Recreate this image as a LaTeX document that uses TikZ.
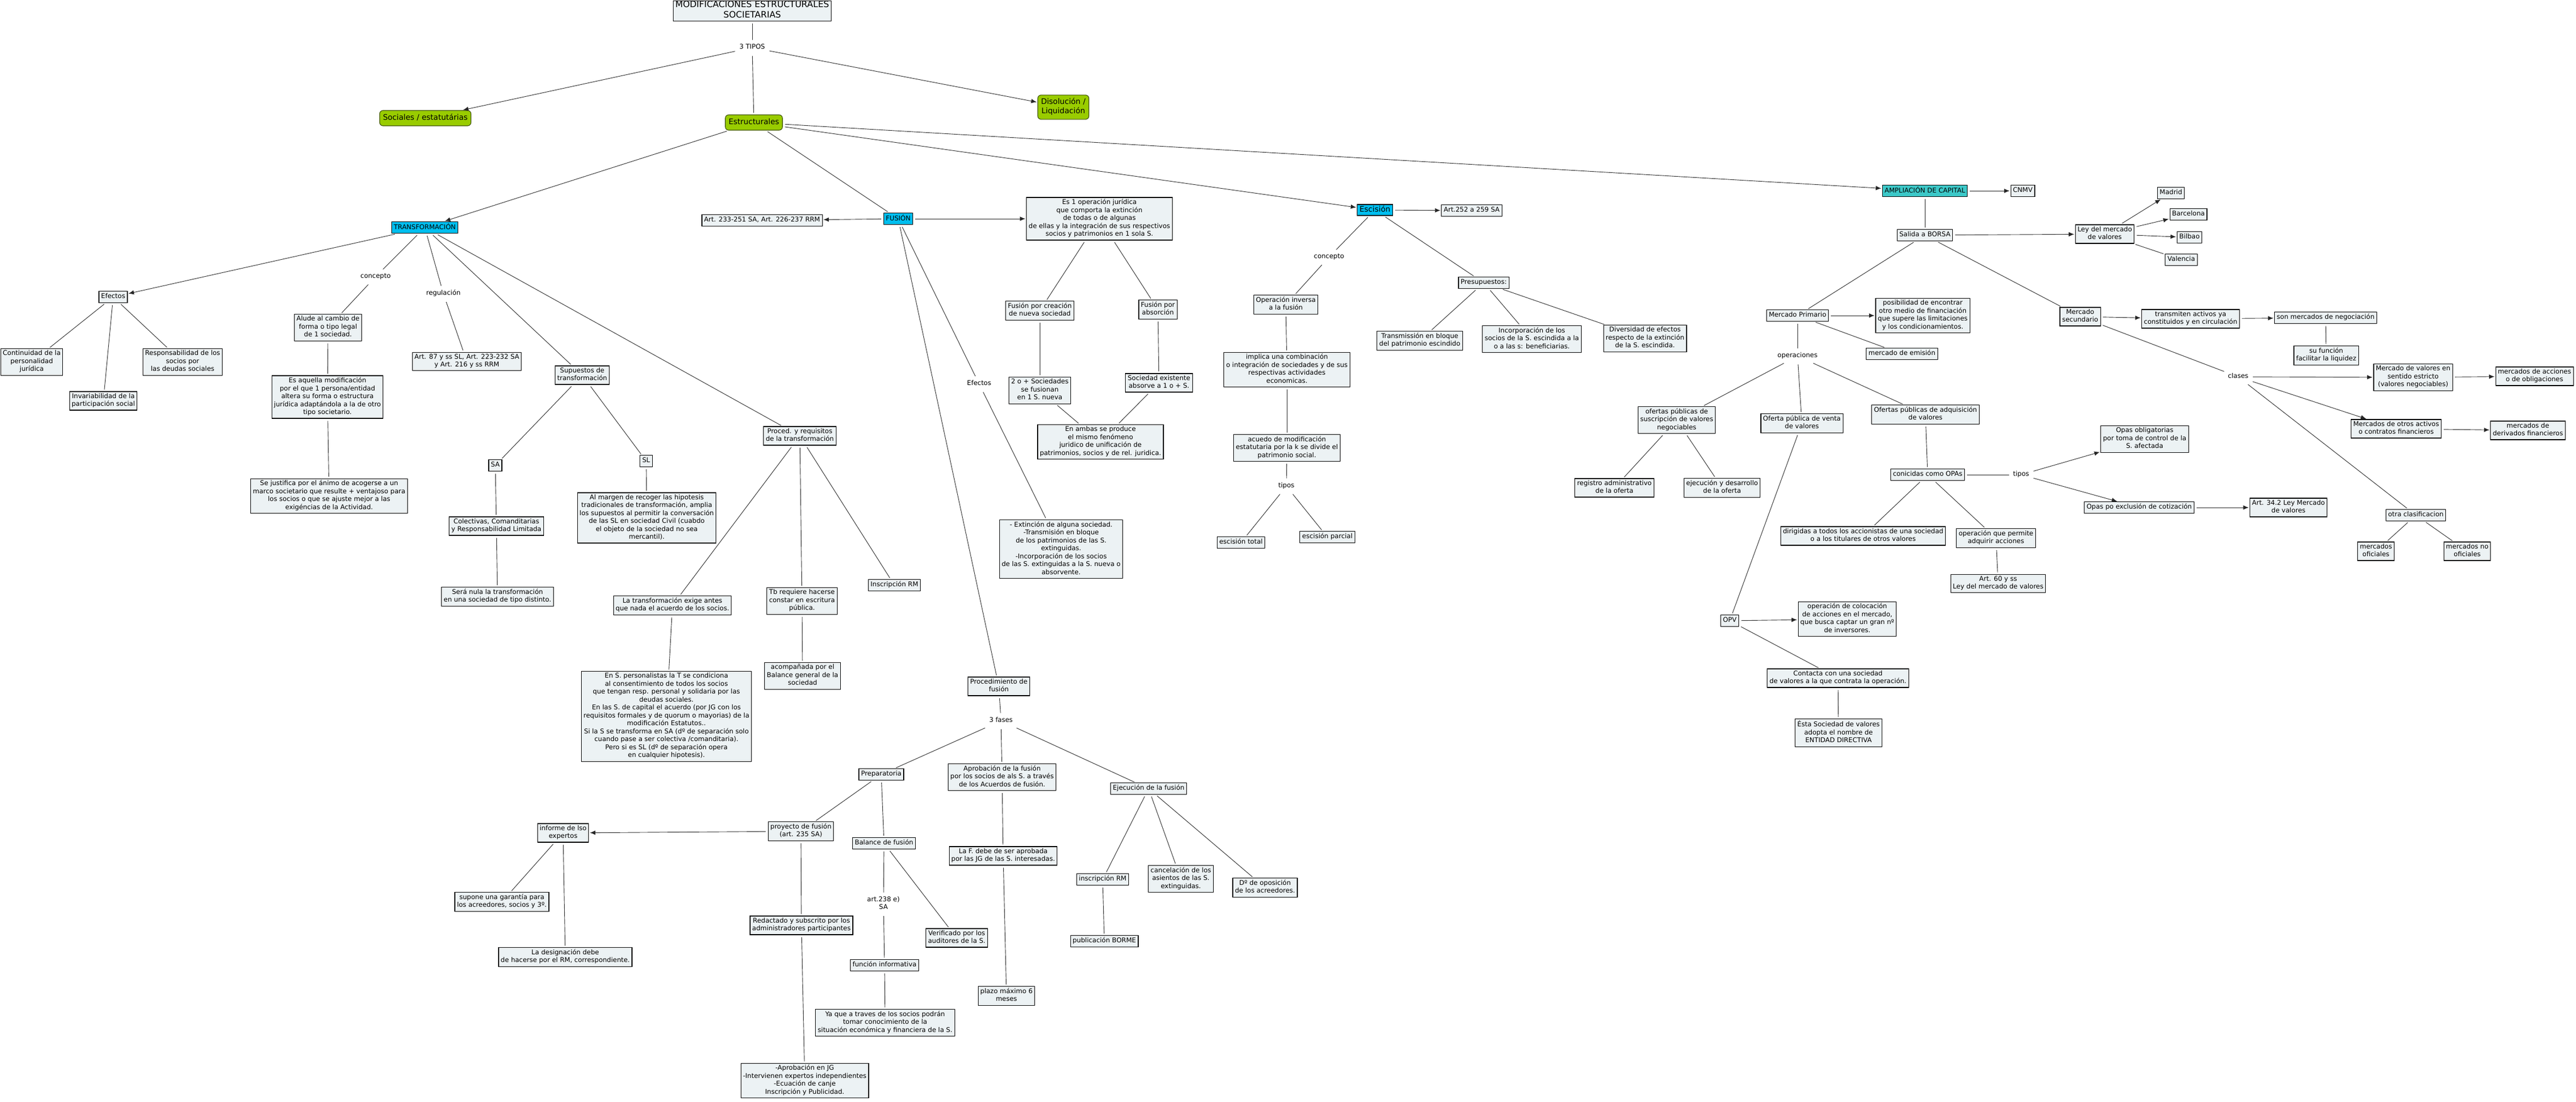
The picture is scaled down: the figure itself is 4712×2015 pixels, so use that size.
\documentclass[tikz,border=0pt]{standalone}
\usepackage{fontspec}
\setmainfont{DejaVu Sans}
\usetikzlibrary{arrows.meta}
\definecolor{boxfill}{RGB}{236,242,244}
\definecolor{cyanfill}{RGB}{0,190,240}
\definecolor{tealfill}{RGB}{60,200,200}
\definecolor{greenfill}{RGB}{153,204,0}
\definecolor{greenline}{RGB}{60,80,0}

\begin{document}
\begin{tikzpicture}[x=1pt,y=-1pt,
		>={Latex[length=10pt,width=8pt]},
		every node/.style={font=\fontsize{12}{14.5}\selectfont,align=center},
		box/.style={draw,line width=1.1pt,fill=boxfill,inner xsep=4pt,inner ysep=3pt,execute at begin node=\strut,execute at end node=\strut},
		topic/.style={box,fill=cyanfill},
		rama/.style={box,fill=greenfill,draw=greenline,rounded corners=6pt,inner xsep=6pt,inner ysep=5.5pt,font=\fontsize{14}{17}\selectfont},
		link/.style={inner sep=4pt,execute at begin node=\strut,execute at end node=\strut},
		conn/.style={draw=black!85,line width=0.9pt,shorten >=3pt,shorten <=4pt},
		arr/.style={conn,->,shorten >=1.5pt}]
		\fill[white] (0,0) rectangle (4712,2015);
		\useasboundingbox (0,0) rectangle (4712,2015);

		\node[box,font=\fontsize{16}{19}\selectfont,inner ysep=0.5pt] (title) at (1376,20) {MODIFICACIONES ESTRUCTURALES\\SOCIETARIAS};
		\node[link] (tipos) at (1376,87) {3 TIPOS};
		\node[rama] (sociales) at (778,216) {Sociales / estatutárias};
		\node[rama] (disol) at (1945,196) {Disolución /\\Liquidación};
		\node[rama] (estruct) at (1379,224) {Estructurales};

		\node[topic] (transf) at (777,416) {TRANSFORMACIÓN};
		\node[topic] (fusion) at (1643,400) {FUSIÓN};
		\node[box] (artfus) at (1394,403) {Art. 233-251 SA, Art. 226-237 RRM};
		\node[box] (esop) at (2011,400) {Es 1 operación jurídica\\que comporta la extinción\\de todas o de algunas\\de ellas y la integración de sus respectivos\\socios y patrimonios en 1 sola S.};
		\node[topic,font=\fontsize{14}{17}\selectfont,inner ysep=1.5pt] (escision) at (2515,384) {Escisión};
		\node[box] (artesc) at (2692,385) {Art.252 a 259 SA};
		\node[box,fill=tealfill] (ampl) at (3521,349) {AMPLIACIÓN DE CAPITAL};
		\node[box] (cnmv) at (3700,349) {CNMV};

		\node[box] (efectos) at (207,543) {Efectos};
		\node[box] (contin) at (58,662) {Continuidad de la\\personalidad\\jurídica};
		\node[box] (invar) at (189,733) {Invariabilidad de la\\participación social};
		\node[box] (respons) at (334,662) {Responsabilidad de los\\socios por\\las deudas sociales};
		\node[link] (lconc) at (687,506) {concepto};
		\node[box] (alude) at (600,599) {Alude al cambio de\\forma o tipo legal\\de 1 sociedad.};
		\node[box] (esaq) at (599,726) {Es aquella modificación\\por el que 1 persona/entidad\\altera su forma o estructura\\jurídica adaptándola a la de otro\\tipo societario.};
		\node[box] (sejust) at (602,907) {Se justifica por el ánimo de acogerse a un\\marco societario que resulte + ventajoso para\\los socios o que se ajuste mejor a las\\exigéncias de la Actividad.};
		\node[link] (lreg) at (811,537) {regulación};
		\node[box] (art87) at (854,661) {Art. 87 y ss SL, Art. 223-232 SA\\y Art. 216 y ss RRM};
		\node[box] (supuestos) at (1065,686) {Supuestos de\\transformación};
		\node[box] (sa) at (906,851) {SA};
		\node[box] (sl) at (1182,843) {SL};
		\node[box] (colect) at (908,962) {Colectivas, Comanditarias\\y Responsabilidad Limitada};
		\node[box] (almargen) at (1183,947) {Al margen de recoger las hipotesis\\tradicionales de transformación, amplia\\los supuestos al permitir la conversación\\de las SL en sociedad Civil (cuabdo\\el objeto de la sociedad no sea\\mercantil).};
		\node[box] (nula) at (910,1091) {Será nula la transformación\\en una sociedad de tipo distinto.};
		\node[box] (proced) at (1463,797) {Proced. y requisitos\\de la transformación};
		\node[box] (exige) at (1230,1107) {La transformación exige antes\\que nada el acuerdo de los socios.};
		\node[box] (tbreq) at (1467,1099) {Tb requiere hacerse\\constar en escritura\\pública.};
		\node[box] (inscrm) at (1636,1070) {Inscripción RM};
		\node[box] (enspers) at (1219,1310) {En S. personalistas la T se condiciona\\al consentimiento de todos los socios\\que tengan resp. personal y solidaria por las\\deudas sociales.\\En las S. de capital el acuerdo (por JG con los\\requisitos formales y de quorum o mayorias) de la\\modificación Estatutos..\\Si la S se transforma en SA (dº de separación solo\\cuando pase a ser colectiva /comanditaria).\\Pero si es SL (dº de separación opera\\en cualquier hipotesis).};
		\node[box] (acomp) at (1468,1236) {acompañada por el\\Balance general de la\\sociedad};

		\node[box] (creacion) at (1902,568) {Fusión por creación\\de nueva sociedad};
		\node[box] (absorcion) at (2118,566) {Fusión por\\absorción};
		\node[box] (dosomas) at (1902,714) {2 o + Sociedades\\se fusionan\\en 1 S. nueva};
		\node[box] (existente) at (2120,700) {Sociedad existente\\absorve a 1 o + S.};
		\node[box] (enambas) at (2013,808) {En ambas se produce\\el mismo fenómeno\\juridico de unificación de\\patrimonios, socios y de rel. juridica.};
		\node[link] (lefect) at (1791,702) {Efectos};
		\node[box] (extinc) at (1941,1004) {- Extinción de alguna sociedad.\\-Transmisión en bloque\\de los patrimonios de las S.\\extinguidas.\\-Incorporación de los socios\\de las S. extinguidas a la S. nueva o\\absorvente.};
		\node[box] (procfus) at (1827,1255) {Procedimiento de\\fusión};
		\node[link] (lfases) at (1831,1318) {3 fases};
		\node[box] (prepar) at (1612,1416) {Preparatoria};
		\node[box] (aprobac) at (1833,1421) {Aprobación de la fusión\\por los socios de als S. a través\\de los Acuerdos de fusión.};
		\node[box] (ejecuc) at (2101,1442) {Ejecución de la fusión};
		\node[box] (proyecto) at (1465,1520) {proyecto de fusión\\(art. 235 SA)};
		\node[box] (informe) at (1030,1523) {informe de lso\\expertos};
		\node[box] (balance) at (1617,1542) {Balance de fusión};
		\node[box] (ladebe) at (1835,1565) {La F. debe de ser aprobada\\por las JG de las S. interesadas.};
		\node[box] (inscrm2) at (2017,1608) {inscripción RM};
		\node[box] (cancel) at (2160,1607) {cancelación de los\\asientos de las S.\\extinguidas.};
		\node[box] (oposic) at (2314,1623) {Dº de oposición\\de los acreedores.};
		\node[link] (lart) at (1616,1653) {art.238 e)\\SA};
		\node[box] (redact) at (1466,1692) {Redactado y subscrito por los\\administradores participantes};
		\node[box] (verif) at (1750,1715) {Verificado por los\\auditores de la S.};
		\node[box] (borme) at (2020,1721) {publicación BORME};
		\node[box] (funcinf) at (1618,1765) {función informativa};
		\node[box] (supone) at (918,1649) {supone una garantía para\\los acreedores, socios y 3º.};
		\node[box] (design) at (1034,1750) {La designación debe\\de hacerse por el RM, correspondiente.};
		\node[box] (plazo) at (1841,1821) {plazo máximo 6\\meses};
		\node[box] (yaque) at (1619,1870) {Ya que a traves de los socios podrán\\tomar conocimiento de la\\situación económica y financiera de la S.};
		\node[box] (aprobjg) at (1472,1976) {-Aprobación en JG\\-Intervienen expertos independientes\\-Ecuación de canje\\Inscripción y Publicidad.};

		\node[link] (lconc2) at (2431,470) {concepto};
		\node[box] (inversa) at (2352,557) {Operación inversa\\a la fusión};
		\node[box] (implica) at (2354,676) {implica una combinación\\o integración de sociedades y de sus\\respectivas actividades\\economicas.};
		\node[box] (acuedo) at (2354,819) {acuedo de modificación\\estatutaria por la k se divide el\\patrimonio social.};
		\node[link] (ltipos) at (2353,889) {tipos};
		\node[box] (esctot) at (2270,992) {escisión total};
		\node[box] (escpar) at (2428,982) {escisión parcial};
		\node[box] (presup) at (2714,517) {Presupuestos:};
		\node[box] (transmis) at (2597,623) {Transmissión en bloque\\del patrimonio escindido};
		\node[box] (incorp) at (2802,620) {Incorporación de los\\socios de la S. escindida a la\\o a las s: beneficiarias.};
		\node[box] (divers) at (3009,619) {Diversidad de efectos\\respecto de la extinción\\de la S. escindida.};

		\node[box] (salida) at (3521,430) {Salida a BORSA};
		\node[box] (leymv) at (3850,428) {Ley del mercado\\de valores};
		\node[box] (madrid) at (3971,353) {Madrid};
		\node[box] (barcelona) at (4003,392) {Barcelona};
		\node[box] (bilbao) at (4005,434) {Bilbao};
		\node[box] (valencia) at (3990,475) {Valencia};
		\node[box] (primario) at (3288,577) {Mercado Primario};
		\node[box] (posib) at (3517,577) {posibilidad de encontrar\\otro medio de financiación\\que supere las limitaciones\\y los condicionamientos.};
		\node[box] (emision) at (3479,647) {mercado de emisión};
		\node[link] (loper) at (3288,651) {operaciones};
		\node[box] (secund) at (3805,579) {Mercado\\secundario};
		\node[box] (transmiten) at (4007,583) {transmiten activos ya\\constituidos y en circulación};
		\node[box] (negoc) at (4254,581) {son mercados de negociación};
		\node[box] (sufunc) at (4255,650) {su función\\facilitar la liquidez};
		\node[link] (lclases) at (4094,689) {clases};
		\node[box] (estricto) at (4414,690) {Mercado de valores en\\sentido estricto\\(valores negociables)};
		\node[box] (acciones) at (4636,688) {mercados de acciones\\o de obligaciones};
		\node[box] (otrosact) at (4383,784) {Mercados de otros activos\\o contratos financieros};
		\node[box] (derivados) at (4624,787) {mercados de\\derivados financieros};
		\node[box] (otraclas) at (4419,942) {otra clasificacion};
		\node[box] (oficiales) at (4346,1008) {mercados\\oficiales};
		\node[box] (nooficiales) at (4513,1008) {mercados no\\oficiales};
		\node[box] (suscrip) at (3067,768) {ofertas públicas de\\suscripción de valores\\negociables};
		\node[box] (venta) at (3296,774) {Oferta  pública de venta\\de valores};
		\node[box] (adquis) at (3522,758) {Ofertas públicas de adquisición\\de valores};
		\node[box] (registro) at (2953,892) {registro administrativo\\de la oferta};
		\node[box] (ejecdes) at (3150,892) {ejecución y desarrollo\\de la oferta};
		\node[box] (opas) at (3526,868) {conicidas como OPAs};
		\node[link] (ltipos2) at (3697,868) {tipos};
		\node[box] (opasoblig) at (3923,803) {Opas obligatorias\\por toma de control de la\\S. afectada};
		\node[box] (opasexcl) at (3913,928) {Opas po exclusión de cotización};
		\node[box] (art342) at (4186,928) {Art. 34.2 Ley Mercado\\de valores};
		\node[box] (dirig) at (3408,980) {dirigidas a todos los accionistas de una sociedad\\o a los titulares de otros valores};
		\node[box] (permite) at (3651,984) {operación que permite\\adquirir acciones};
		\node[box] (art60) at (3655,1067) {Art. 60 y ss\\Ley del mercado de valores};
		\node[box] (opv) at (3164,1135) {OPV};
		\node[box] (coloc) at (3379,1132) {operación de colocación\\de acciones en el mercado,\\que busca captar un gran nº\\de inversores.};
		\node[box] (contacta) at (3362,1240) {Contacta con una sociedad\\de valores a la que contrata la operación.};
		\node[box] (esta) at (3363,1340) {Ésta Sociedad de valores\\adopta el nombre de\\ENTIDAD DIRECTIVA};

		\draw[conn] (title) -- (tipos);
		\draw[arr] (tipos) -- (sociales);
		\draw[arr] (tipos) -- (disol);
		\draw[conn] (tipos) -- (estruct);
		\draw[arr] (estruct) -- (transf);
		\draw[conn] (estruct) -- (fusion);
		\draw[arr] (estruct) -- (escision);
		\draw[arr] (estruct) -- (ampl);

		\draw[arr] (transf) -- (efectos);
		\draw[conn] (efectos) -- (contin);
		\draw[conn] (efectos) -- (invar);
		\draw[conn] (efectos) -- (respons);
		\draw[conn] (transf) -- (lconc);
		\draw[conn] (lconc) -- (alude);
		\draw[conn] (alude) -- (esaq);
		\draw[conn] (esaq) -- (sejust);
		\draw[conn] (transf) -- (lreg);
		\draw[conn] (lreg) -- (art87);
		\draw[conn] (transf) -- (supuestos);
		\draw[conn] (supuestos) -- (sa);
		\draw[conn] (supuestos) -- (sl);
		\draw[conn] (sa) -- (colect);
		\draw[conn] (colect) -- (nula);
		\draw[conn] (sl) -- (almargen);
		\draw[conn] (transf) -- (proced);
		\draw[conn] (proced) -- (exige);
		\draw[conn] (proced) -- (tbreq);
		\draw[conn] (proced) -- (inscrm);
		\draw[conn] (exige) -- (enspers);
		\draw[conn] (tbreq) -- (acomp);

		\draw[arr] (fusion) -- (artfus);
		\draw[arr] (fusion) -- (esop);
		\draw[conn] (esop) -- (creacion);
		\draw[conn] (esop) -- (absorcion);
		\draw[conn] (creacion) -- (dosomas);
		\draw[conn] (absorcion) -- (existente);
		\draw[conn] (dosomas) -- (enambas);
		\draw[conn] (existente) -- (enambas);
		\draw[conn] (fusion) -- (lefect);
		\draw[conn] (lefect) -- (extinc);
		\draw[conn] (fusion) -- (procfus);
		\draw[conn] (procfus) -- (lfases);
		\draw[conn] (lfases) -- (prepar);
		\draw[conn] (lfases) -- (aprobac);
		\draw[conn] (lfases) -- (ejecuc);
		\draw[conn] (prepar) -- (proyecto);
		\draw[conn] (prepar) -- (balance);
		\draw[arr] (proyecto) -- (informe);
		\draw[conn] (informe) -- (supone);
		\draw[conn] (informe) -- (design);
		\draw[conn] (proyecto) -- (redact);
		\draw[conn] (redact) -- (aprobjg);
		\draw[conn] (balance) -- (lart);
		\draw[conn] (lart) -- (funcinf);
		\draw[conn] (funcinf) -- (yaque);
		\draw[conn] (balance) -- (verif);
		\draw[conn] (aprobac) -- (ladebe);
		\draw[conn] (ladebe) -- (plazo);
		\draw[conn] (ejecuc) -- (inscrm2);
		\draw[conn] (inscrm2) -- (borme);
		\draw[conn] (ejecuc) -- (cancel);
		\draw[conn] (ejecuc) -- (oposic);

		\draw[arr] (escision) -- (artesc);
		\draw[conn] (escision) -- (lconc2);
		\draw[conn] (lconc2) -- (inversa);
		\draw[conn] (inversa) -- (implica);
		\draw[conn] (implica) -- (acuedo);
		\draw[conn] (acuedo) -- (ltipos);
		\draw[conn] (ltipos) -- (esctot);
		\draw[conn] (ltipos) -- (escpar);
		\draw[conn] (escision) -- (presup);
		\draw[conn] (presup) -- (transmis);
		\draw[conn] (presup) -- (incorp);
		\draw[conn] (presup) -- (divers);

		\draw[arr] (ampl) -- (cnmv);
		\draw[conn] (ampl) -- (salida);
		\draw[arr] (salida) -- (leymv);
		\draw[arr] (leymv) -- (madrid);
		\draw[arr] (leymv) -- (barcelona);
		\draw[arr] (leymv) -- (bilbao);
		\draw[conn] (leymv) -- (valencia);
		\draw[conn] (salida) -- (primario);
		\draw[conn] (salida) -- (secund);
		\draw[arr] (primario) -- (posib);
		\draw[conn] (primario) -- (emision);
		\draw[conn] (primario) -- (loper);
		\draw[conn] (loper) -- (suscrip);
		\draw[conn] (loper) -- (venta);
		\draw[conn] (loper) -- (adquis);
		\draw[conn] (suscrip) -- (registro);
		\draw[conn] (suscrip) -- (ejecdes);
		\draw[conn] (venta) -- (opv);
		\draw[arr] (opv) -- (coloc);
		\draw[conn] (opv) -- (contacta);
		\draw[conn] (contacta) -- (esta);
		\draw[conn] (adquis) -- (opas);
		\draw[conn] (opas) -- (ltipos2);
		\draw[arr] (ltipos2) -- (opasoblig);
		\draw[arr] (ltipos2) -- (opasexcl);
		\draw[arr] (opasexcl) -- (art342);
		\draw[conn] (opas) -- (dirig);
		\draw[conn] (opas) -- (permite);
		\draw[conn] (permite) -- (art60);
		\draw[arr] (secund) -- (transmiten);
		\draw[arr] (transmiten) -- (negoc);
		\draw[conn] (negoc) -- (sufunc);
		\draw[conn] (secund) -- (lclases);
		\draw[arr] (lclases) -- (estricto);
		\draw[arr] (lclases) -- (otrosact);
		\draw[conn] (lclases) -- (otraclas);
		\draw[arr] (estricto) -- (acciones);
		\draw[arr] (otrosact) -- (derivados);
		\draw[conn] (otraclas) -- (oficiales);
		\draw[conn] (otraclas) -- (nooficiales);
	\end{tikzpicture}
\end{document}
